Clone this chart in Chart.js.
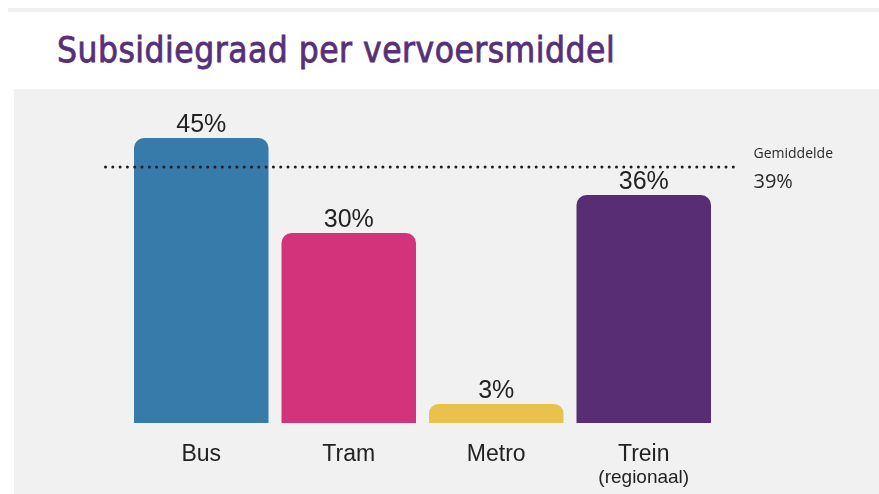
<!DOCTYPE html>
<html>
<head>
<meta charset="utf-8">
<script src="https://cdn.jsdelivr.net/npm/chart.js@4"></script>
<style>
  html, body { margin:0; padding:0; background:#ffffff; width:879px; height:494px; overflow:hidden; }
  #strip { position:absolute; left:8px; top:8px; width:871px; height:4px; background:#efefef; }
  #title { position:absolute; left:57px; top:33px; font-family:"DejaVu Sans Condensed","DejaVu Sans",sans-serif; font-stretch:condensed; font-weight:normal; font-size:35px; line-height:35px; letter-spacing:0.5px; -webkit-text-stroke:0.8px #573079; color:#573079; white-space:nowrap; }
  #panel { position:absolute; left:14px; top:89px; width:865px; height:405px; background:#f1f1f1; }
  canvas { position:absolute; left:0; top:0; }
</style>
</head>
<body>
<div id="strip"></div>
<div id="title">Subsidiegraad per vervoersmiddel</div>
<div id="panel"><canvas id="c" width="865" height="405"></canvas></div>
<script>
// ---- data ----
const categories = ['Bus', 'Tram', 'Metro', 'Trein'];
const subCategoryLabels = ['', '', '', '(regionaal)'];
const subsidyPercent = [45, 30, 3, 36];
const valueLabels = ['45%', '30%', '3%', '36%'];
const barColors = ['#377baa', '#d3337b', '#e8c24c', '#582d74'];
const averageTitle = 'Gemiddelde';
const averageLabel = '39%';
const averageLinePosition = 40.4; // where the dotted line sits in the picture
const yMax = 50;

const overlay = {
  id: 'overlay',
  afterDatasetsDraw(chart) {
    const ctx = chart.ctx;
    const xs = chart.scales.x, ys = chart.scales.y;
    const area = chart.chartArea;
    ctx.save();
    ctx.fillStyle = '#222222';
    ctx.textAlign = 'center';
    ctx.textBaseline = 'alphabetic';
    ctx.font = '25px "Liberation Sans", Arial, sans-serif';
    subsidyPercent.forEach((v, i) => {
      ctx.fillText(valueLabels[i], xs.getPixelForValue(i), ys.getPixelForValue(v) - 6);
    });
    const base = ys.getPixelForValue(0);
    ctx.font = '23px "Liberation Sans", Arial, sans-serif';
    categories.forEach((c, i) => {
      ctx.fillText(c, xs.getPixelForValue(i), base + 38);
    });
    ctx.font = '19px "Liberation Sans", Arial, sans-serif';
    subCategoryLabels.forEach((c, i) => {
      if (c) ctx.fillText(c, xs.getPixelForValue(i), base + 60);
    });
    const ly = ys.getPixelForValue(averageLinePosition);
    ctx.strokeStyle = '#1e1e1e';
    ctx.lineWidth = 3;
    ctx.lineCap = 'round';
    ctx.setLineDash([0, 7.3]);
    ctx.beginPath();
    ctx.moveTo(area.left - 22, ly);
    ctx.lineTo(area.right + 22, ly);
    ctx.stroke();
    ctx.setLineDash([]);
    ctx.textAlign = 'left';
    ctx.fillStyle = '#2a2a2a';
    ctx.font = '14px "Open Sans", sans-serif';
    ctx.fillText(averageTitle, area.right + 36, ly - 9);
    ctx.font = '20px "Open Sans", sans-serif';
    ctx.fillText(averageLabel, area.right + 36, ly + 21);
    ctx.restore();
  }
};

new Chart(document.getElementById('c'), {
  type: 'bar',
  data: {
    labels: categories,
    datasets: [{
      data: subsidyPercent,
      backgroundColor: barColors,
      borderWidth: 0,
      borderRadius: { topLeft: 10, topRight: 10, bottomLeft: 0, bottomRight: 0 },
      borderSkipped: false,
      barPercentage: 0.912,
      categoryPercentage: 1.0
    }]
  },
  options: {
    responsive: false,
    animation: false,
    devicePixelRatio: 1,
    layout: { padding: { left: 113.5, right: 161.5, top: 17.3, bottom: 71 } },
    plugins: { legend: { display: false }, tooltip: { enabled: false }, title: { display: false } },
    scales: {
      x: { display: false },
      y: { display: false, min: 0, max: yMax }
    }
  },
  plugins: [overlay]
});
</script>
</body>
</html>
